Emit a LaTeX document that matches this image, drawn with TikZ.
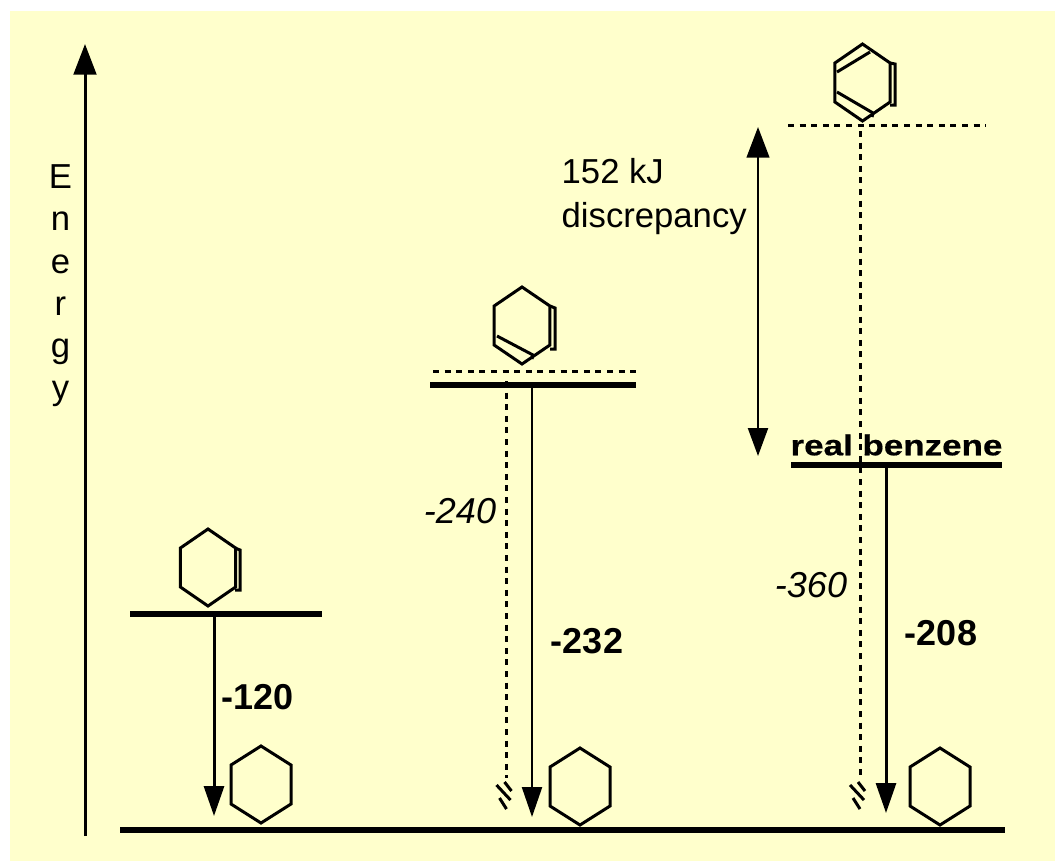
\documentclass[tikz,border=0pt]{standalone}
\usepackage{fontspec}
\setmainfont{Liberation Sans}
\newfontfamily\stretchedbold[FakeStretch=1.22, FakeBold=0.6]{Liberation Sans Bold}
\usetikzlibrary{arrows.meta, positioning, calc}
\definecolor{chartyellow}{HTML}{FFFFCC}
\tikzset{
  ring/.pic={
    \draw[bondline] (0,-38) -- (30,-19) -- (30,20) -- (0,39) -- (-30,20) -- (-30,-19) -- cycle;
  },
  hashtip/.pic={
    \draw[bondline] (-10,5) -- (4,20);
    \draw[bondline] (-2,2) -- (5,11);
    \draw[bondline] (-7,18) -- (0,29);
  }
}
\begin{document}
\begin{tikzpicture}[
      x=0.75pt, y=-0.75pt,
      bondline/.style={line width=2.25pt, line join=miter},
      level/.style={line width=4.5pt},
      dashedlevel/.style={line width=2.25pt, dash pattern=on 4.5pt off 4.2pt},
      bigtip/.style={-{Triangle[length=23pt, width=17pt]}},
      thinarrow/.style={line width=1.7pt, -{Triangle[length=22.5pt, width=15pt]}},
      widearrow/.style={line width=2.25pt, -{Triangle[length=22.5pt, width=15pt]}},
      valuelabel/.style={font=\fontsize{27}{32}\selectfont\bfseries},
      estimatelabel/.style={font=\fontsize{27}{32}\selectfont\itshape},
      plainlabel/.style={font=\fontsize{26}{33}\selectfont, align=left}
    ]
      % page and yellow panel
      \useasboundingbox (0,0) rectangle (1055,861);
      \fill[white] (0,0) rectangle (1055,861);
      \fill[chartyellow] (10,11) rectangle (1055,861);

      % energy axis
      \coordinate (axisfoot) at (85,836);
      \coordinate (axishead) at (85,44);
      \draw[line width=2.25pt, bigtip] (axisfoot) -- (axishead);
      \node[font=\fontsize{26}{31.7}\selectfont, align=center, anchor=north] (energy) at (60.5,160) {E\\n\\e\\r\\g\\y};

      % levels
      \coordinate (groundleft) at (120,830);
      \coordinate (groundright) at (1005,830);
      \draw[level] (groundleft) -- (groundright);
      \coordinate (monoleft) at (130,614);
      \coordinate (monoright) at (322,614);
      \draw[level] (monoleft) -- (monoright);
      \coordinate (dienleft) at (430,385);
      \coordinate (dienright) at (636,385);
      \draw[level] (dienleft) -- (dienright);
      \coordinate (dienhighleft) at (433,371);
      \coordinate (dienhighright) at (636,371);
      \draw[dashedlevel] (dienhighleft) -- (dienhighright);
      \coordinate (realleft) at (791,465);
      \coordinate (realright) at (1002,465);
      \draw[level] (realleft) -- (realright);
      \coordinate (trienleft) at (788,125);
      \coordinate (trienright) at (986,125);
      \draw[dashedlevel] (trienleft) -- (trienright);

      % rings
      \pic at (261,784) {ring};
      \pic at (580,786) {ring};
      \pic at (940,786) {ring};
      \pic[xscale=0.92] at (208,567) {ring};
      \pic[xscale=0.93] at (522,325) {ring};
      \pic[xscale=0.92] at (862.5,82) {ring};
      \draw[bondline] (235,548) -- (240,550) -- (240,590) -- (235,590);
      \draw[bondline] (550,306) -- (555,308) -- (555,349) -- (550,349);
      \draw[bondline] (497,336) -- (533,355) -- (532,359);
      \draw[bondline] (890,63) -- (895,64) -- (895,105) -- (890,105);
      \draw[bondline] (837,92) -- (873,113) -- (872,117);
      \draw[bondline] (837,72) -- (870,52);

      % reactions
      \coordinate (monotop) at (214,614);
      \coordinate (monotip) at (214,816);
      \draw[widearrow] (monotop) -- (monotip);
      \coordinate (dientop) at (532,385);
      \coordinate (diententip) at (532,817);
      \draw[thinarrow] (dientop) -- (diententip);
      \coordinate (realtop) at (886,465);
      \coordinate (realtip) at (886,813);
      \draw[widearrow] (realtop) -- (realtip);
      \coordinate (dashdientop) at (506.5,381);
      \coordinate (dashdienfoot) at (506.5,778);
      \draw[dashedlevel] (dashdientop) -- (dashdienfoot);
      \pic at (506.5,780) {hashtip};
      \coordinate (dashtrientop) at (860,131);
      \coordinate (dashtrienfoot) at (860,776);
      \draw[dashedlevel] (dashtrientop) -- (dashtrienfoot);
      \pic at (860,780) {hashtip};

      % discrepancy
      \coordinate (gapbottom) at (758,456);
      \coordinate (gaptop) at (758,127);
      \draw[line width=1.7pt, {Triangle[length=21pt, width=15pt]}-{Triangle[length=23pt, width=17pt]}] (gapbottom) -- (gaptop);
      \node[plainlabel, anchor=west] (gaplabel) at (557,197) {152 kJ\\discrepancy};

      % labels
      \node[font=\fontsize{21.5}{26}\stretchedbold] (reallabel) at (896.5,445) {real benzene};
      \node[valuelabel] (monovalue) at (257.5,697) {-120};
      \node[valuelabel] (dienvalue) at (587,641) {-232};
      \node[valuelabel] (realvalue) at (941,633) {-208};
      \node[estimatelabel] (dienestimate) at (460,511) {-240};
      \node[estimatelabel] (trienestimate) at (811,585) {-360};
    \end{tikzpicture}
\end{document}
